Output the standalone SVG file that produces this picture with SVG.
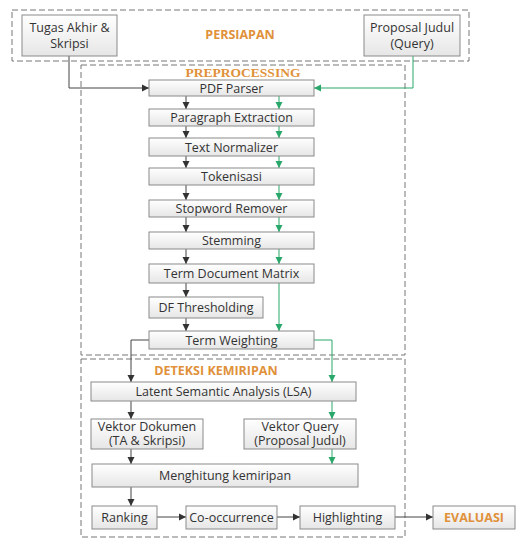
<svg xmlns="http://www.w3.org/2000/svg" width="530" height="539" viewBox="0 0 530 539">
<defs>
<linearGradient id="g" x1="0" y1="0" x2="0" y2="1">
<stop offset="0" stop-color="#ffffff"/><stop offset="1" stop-color="#e6e6e6"/>
</linearGradient>
<marker id="ak" markerWidth="8" markerHeight="8" refX="7" refY="4" orient="auto" markerUnits="userSpaceOnUse"><path d="M0,0.5 L7,4 L0,7.5 Z" fill="#333"/></marker>
<marker id="ag" markerWidth="8" markerHeight="8" refX="7" refY="4" orient="auto" markerUnits="userSpaceOnUse"><path d="M0,0.5 L7,4 L0,7.5 Z" fill="#2aa76a"/></marker>
</defs>
<style>
.bx{fill:url(#g);stroke:#8a8a8a;stroke-width:1}
.t{font-family:"Open Sans","DejaVu Sans",sans-serif;font-size:12.5px;fill:#333;text-anchor:middle}
.h{font-family:"Open Sans","DejaVu Sans",sans-serif;font-size:12.5px;font-weight:bold;fill:#e0913a;text-anchor:middle}
.hs{font-family:"Liberation Serif",serif;font-size:13.5px;font-weight:bold;fill:#e0913a;text-anchor:middle}
.dash{fill:none;stroke:#777;stroke-width:1;stroke-dasharray:6,3}
.k{fill:none;stroke:#444;stroke-width:1;marker-end:url(#ak)}
.gr{fill:none;stroke:#2aa76a;stroke-width:1;marker-end:url(#ag)}
</style>
<g id="groups">
<rect class="dash" x="12" y="10" width="457" height="51"/>
<rect class="dash" x="81" y="65" width="324" height="290"/>
<rect class="dash" x="81" y="359" width="324" height="178"/>
<text class="h" x="240" y="39">PERSIAPAN</text>
<text class="hs" x="243" y="77">PREPROCESSING</text>
<text class="h" x="216" y="375">DETEKSI KEMIRIPAN</text>
</g>
<g id="connectors">
<path class="k" d="M69,56 V88 H149"/>
<path class="gr" d="M413,56 V88 H314"/>
<path class="k" d="M186,96 V109"/><path class="gr" d="M279,96 V109"/>
<path class="k" d="M186,126 V138"/><path class="gr" d="M279,126 V138"/>
<path class="k" d="M186,156 V168"/><path class="gr" d="M279,156 V168"/>
<path class="k" d="M186,185 V200"/><path class="gr" d="M279,185 V200"/>
<path class="k" d="M186,217 V232"/><path class="gr" d="M279,217 V232"/>
<path class="k" d="M186,249 V264"/><path class="gr" d="M279,249 V264"/>
<path class="k" d="M186,283 V297"/>
<path class="k" d="M186,318 V331"/>
<path class="gr" d="M279,283 V331"/>
<path class="k" d="M149,340 H131 V382"/>
<path class="gr" d="M314,340 H332 V382"/>
<path class="k" d="M131,401 V419"/><path class="gr" d="M332,401 V419"/>
<path class="k" d="M131,449 V464"/><path class="gr" d="M332,449 V464"/>
<path class="k" d="M131,487 V506"/>
<path class="k" d="M157,517 H186"/>
<path class="k" d="M277,517 H300"/>
<path class="k" d="M395,517 H433"/>
</g>
<g id="n-tugas"><rect class="bx" x="22" y="15" width="95" height="41"/><text class="t" x="69.5" y="32">Tugas Akhir &amp;</text><text class="t" x="69.5" y="48">Skripsi</text></g>
<g id="n-proposal"><rect class="bx" x="364" y="15" width="96" height="41"/><text class="t" x="412" y="32">Proposal Judul</text><text class="t" x="412" y="48">(Query)</text></g>
<g id="n-pdf"><rect class="bx" x="149" y="80" width="165" height="16"/><text class="t" x="231.5" y="92.5">PDF Parser</text></g>
<g id="n-para"><rect class="bx" x="149" y="109" width="165" height="17"/><text class="t" x="231.5" y="122">Paragraph Extraction</text></g>
<g id="n-norm"><rect class="bx" x="149" y="138" width="165" height="18"/><text class="t" x="231.5" y="151.5">Text Normalizer</text></g>
<g id="n-token"><rect class="bx" x="149" y="168" width="165" height="17"/><text class="t" x="231.5" y="181">Tokenisasi</text></g>
<g id="n-stop"><rect class="bx" x="149" y="200" width="165" height="17"/><text class="t" x="231.5" y="213">Stopword Remover</text></g>
<g id="n-stem"><rect class="bx" x="149" y="232" width="165" height="17"/><text class="t" x="231.5" y="245">Stemming</text></g>
<g id="n-tdm"><rect class="bx" x="149" y="264" width="165" height="19"/><text class="t" x="231.5" y="278">Term Document Matrix</text></g>
<g id="n-df"><rect class="bx" x="149" y="297" width="114" height="21"/><text class="t" x="206" y="312">DF Thresholding</text></g>
<g id="n-tw"><rect class="bx" x="149" y="331" width="165" height="18"/><text class="t" x="231.5" y="344.5">Term Weighting</text></g>
<g id="n-lsa"><rect class="bx" x="91" y="382" width="265" height="19"/><text class="t" x="223.5" y="396">Latent Semantic Analysis (LSA)</text></g>
<g id="n-vd"><rect class="bx" x="91" y="419" width="112" height="30"/><text class="t" x="147" y="431">Vektor Dokumen</text><text class="t" x="147" y="445">(TA &amp; Skripsi)</text></g>
<g id="n-vq"><rect class="bx" x="244" y="419" width="112" height="30"/><text class="t" x="300" y="431">Vektor Query</text><text class="t" x="300" y="445">(Proposal Judul)</text></g>
<g id="n-hit"><rect class="bx" x="92" y="464" width="266" height="23"/><text class="t" x="225" y="480">Menghitung kemiripan</text></g>
<g id="n-rank"><rect class="bx" x="92" y="506" width="65" height="23"/><text class="t" x="124.5" y="522">Ranking</text></g>
<g id="n-co"><rect class="bx" x="186" y="506" width="91" height="23"/><text class="t" x="231.5" y="522">Co-occurrence</text></g>
<g id="n-hl"><rect class="bx" x="300" y="506" width="95" height="23"/><text class="t" x="347.5" y="522">Highlighting</text></g>
<g id="n-eval"><rect class="bx" x="433" y="506" width="82" height="23"/><text class="h" x="474" y="522">EVALUASI</text></g>
</svg>
